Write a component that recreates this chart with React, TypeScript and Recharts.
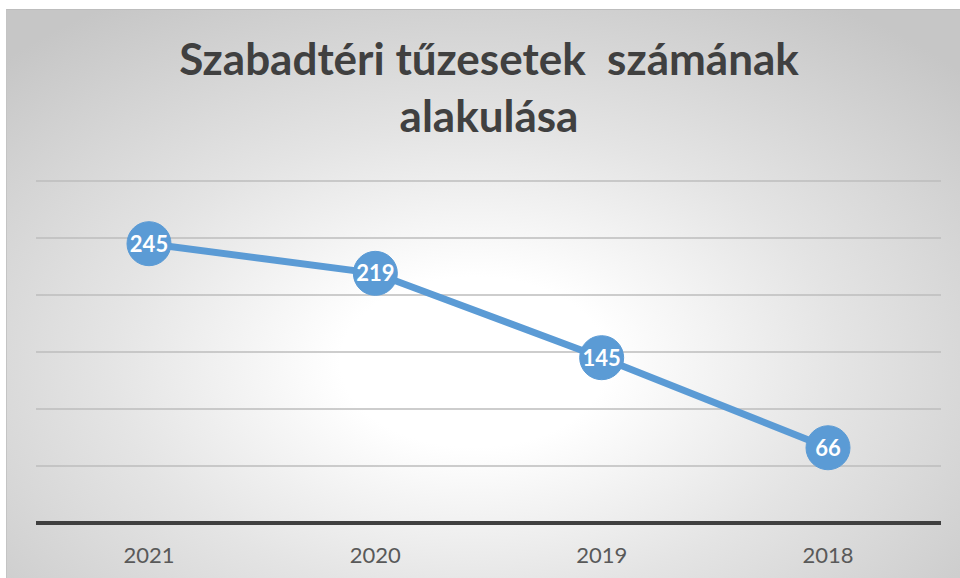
import React from "react";
import { LineChart, Line, XAxis, YAxis, CartesianGrid, LabelList } from "recharts";

const years = ["2021", "2020", "2019", "2018"];
const fires = [245, 219, 145, 66];
const yTicks = [0, 50, 100, 150, 200, 250, 300];
const titleLine1 = "Szabadtéri tűzesetek  számának";
const titleLine2 = "alakulása";

const data = years.map((y, i) => ({ year: y, value: fires[i] }));

const FONT = "Lato, 'Open Sans', sans-serif";

export default function App() {
  return (
    <div style={{ position: "absolute", left: 0, top: 0, width: 960, height: 578, background: "#ffffff", overflow: "hidden" }}>
      <div
        style={{
          position: "absolute",
          left: 6,
          top: 9,
          width: 954,
          height: 569,
          borderTop: "1px solid #bdbdbd",
          borderLeft: "1px solid #c4c4c4",
          boxSizing: "border-box",
          background: "radial-gradient(ellipse 70% 75% at 49% 62%, #ffffff 0%, #ffffff 20%, #e4e4e4 55%, #c6c6c6 100%)",
        }}
      />
      <div
        style={{
          position: "absolute",
          left: 139,
          top: 30,
          width: 700,
          textAlign: "center",
          fontFamily: FONT,
          fontWeight: 700,
          fontSize: 44,
          lineHeight: "57px",
          color: "#404040",
          whiteSpace: "pre",
        }}
      >
        <div>{titleLine1}</div>
        <div>{titleLine2}</div>
      </div>
      <div style={{ position: "absolute", left: 0, top: 0 }}>
        <LineChart width={960} height={578} data={data} margin={{ top: 181, right: 19, bottom: 0, left: 36 }}>
          <CartesianGrid horizontal vertical={false} stroke="#bcbcbc" strokeWidth={1.3} />
          <YAxis hide domain={[0, 300]} ticks={yTicks} width={0} />
          <XAxis
            dataKey="year"
            padding={{ left: 113, right: 113 }}
            axisLine={{ stroke: "#404040", strokeWidth: 4 }}
            tickLine={false}
            tick={{ fill: "#595959", fontSize: 22, fontFamily: FONT }}
            dy={16}
            height={55}
          />
          <Line
            dataKey="value"
            stroke="#5b9bd5"
            strokeWidth={7}
            isAnimationActive={false}
            dot={{ r: 22, fill: "#5b9bd5", stroke: "#5b9bd5", strokeWidth: 1 }}
            activeDot={false}
          >
            <LabelList
              dataKey="value"
              position="center"
              fill="#ffffff"
              style={{ fontSize: 22, fontWeight: 700, fontFamily: FONT }}
            />
          </Line>
        </LineChart>
      </div>
    </div>
  );
}
